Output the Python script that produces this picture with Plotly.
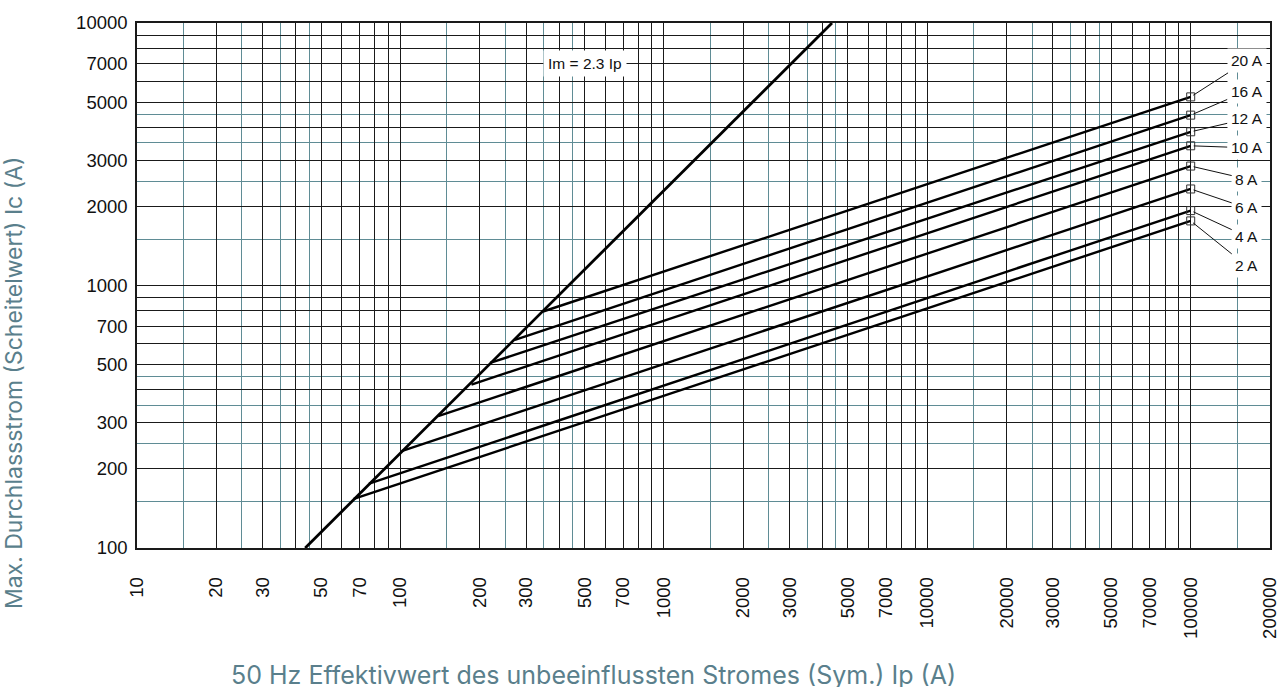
import numpy as np
import plotly.graph_objects as go

# ---------------- data ----------------
ratings = ["2 A", "4 A", "6 A", "8 A", "10 A", "12 A", "16 A", "20 A"]
ip_start = [66.5, 76, 101, 139, 186, 219, 272, 348]
ic_start = [154, 176, 234, 318, 419, 507, 621, 796]
ip_end = [100000, 100000, 100000, 100000, 100000, 100000, 100000, 100000]
ic_end = [1762, 1929, 2332, 2851, 3406, 3851, 4457, 5231]

limit_ip = [43.5, 4348]
limit_ic = [100, 10000]
limit_label = "Im = 2.3 Ip"
limit_label_pos = (500, 7000)

x_tick_labels = [10, 20, 30, 50, 70, 100, 200, 300, 500, 700, 1000, 2000, 3000,
                 5000, 7000, 10000, 20000, 30000, 50000, 70000, 100000, 200000]
y_tick_labels = [100, 200, 300, 500, 700, 1000, 2000, 3000, 5000, 7000, 10000]

x_title = "50 Hz Effektivwert des unbeeinflussten Stromes (Sym.) Ip (A)"
y_title = "Max. Durchlassstrom (Scheitelwert) Ic (A)"

# ---------------- styles ----------------
label_ax = [56, 56, 56, 56, 56, 56, 56, 56]
label_ay = [45, 26, 19, 13, 2, -13, -24, -36]
GRID_DARK = "#1a1a1a"
GRID_TEAL = "#5f8c95"
TITLE_COLOR = "#5a7f8c"
TICK_FONT = dict(family="Liberation Sans, Arial, sans-serif", size=18.5, color="#111111")
LABEL_FONT = dict(family="Liberation Sans, Arial, sans-serif", size=15.5, color="#111111")


def grid_values(lo, hi, mults):
    vals = []
    for e in range(0, 7):
        for m in mults:
            v = m * 10 ** e
            if lo - 1e-9 <= v <= hi + 1e-9:
                vals.append(v)
    return sorted(set(vals))


x_major = grid_values(10, 200000, range(1, 10))
y_major = grid_values(100, 10000, range(1, 10))
x_minor = grid_values(10, 200000, [1.5, 2.5, 3.5, 4.5])
y_minor = grid_values(100, 10000, [1.5, 2.5, 3.5, 4.5])

x_text = [str(int(v)) if int(v) in x_tick_labels else "" for v in x_major]
y_text = [str(int(v)) if int(v) in y_tick_labels else "" for v in y_major]

fig = go.Figure()

fig.add_trace(go.Scatter(x=limit_ip, y=limit_ic, mode="lines",
                         line=dict(color="black", width=2.8), showlegend=False,
                         hoverinfo="skip"))

for name, x0, y0, x1, y1 in zip(ratings, ip_start, ic_start, ip_end, ic_end):
    fig.add_trace(go.Scatter(x=[x0, x1], y=[y0, y1], mode="lines",
                             line=dict(color="black", width=2.4),
                             name=name, showlegend=False))
fig.add_trace(go.Scatter(x=ip_end, y=ic_end, mode="markers",
                         marker=dict(symbol="square-open", size=8, color="#333333",
                                     line=dict(width=1)),
                         showlegend=False, hoverinfo="skip"))

annotations = []
annotations.append(dict(x=np.log10(limit_label_pos[0]), y=np.log10(limit_label_pos[1]),
                        xref="x", yref="y", text=limit_label, showarrow=False,
                        bgcolor="white", borderpad=4, font=LABEL_FONT))
for name, x1, y1, ax, ay in zip(ratings, ip_end, ic_end, label_ax, label_ay):
    annotations.append(dict(x=np.log10(x1), y=np.log10(y1), xref="x", yref="y",
                            text=name, showarrow=True, arrowhead=0, arrowwidth=1,
                            arrowcolor="#111", ax=ax, ay=ay, standoff=3,
                            bgcolor="white", borderpad=3, font=LABEL_FONT))
annotations.append(dict(x=0.4025, y=-0.2415, xref="paper", yref="paper",
                        text=x_title, showarrow=False, xanchor="center", yanchor="middle",
                        font=dict(family="Inter, sans-serif", size=25, color=TITLE_COLOR)))
annotations.append(dict(x=-0.1086, y=0.314, xref="paper", yref="paper",
                        text=y_title, showarrow=False, textangle=-90,
                        xanchor="center", yanchor="middle",
                        font=dict(family="Inter, sans-serif", size=23, color=TITLE_COLOR)))

fig.update_layout(
    width=1277, height=687,
    margin=dict(l=137, r=7, t=23, b=139),
    paper_bgcolor="white", plot_bgcolor="white",
    annotations=annotations,
    xaxis=dict(type="log", range=[1, np.log10(200000)], automargin=False,
               tickmode="array", tickvals=x_major, ticktext=x_text,
               tickangle=-90, tickfont=TICK_FONT, ticks="", ticklabelstandoff=20,
               ticklabeloverflow="allow",
               showgrid=True, gridcolor=GRID_DARK, gridwidth=1.3,
               minor=dict(tickmode="array", tickvals=x_minor, showgrid=True,
                          gridcolor=GRID_TEAL, gridwidth=1.3, ticks=""),
               showline=True, linecolor=GRID_DARK, linewidth=1.5, mirror=True,
               zeroline=False),
    yaxis=dict(type="log", range=[2, 4], automargin=False,
               tickmode="array", tickvals=y_major, ticktext=y_text,
               tickfont=TICK_FONT, ticks="", ticklabelstandoff=4,
               ticklabeloverflow="allow",
               showgrid=True, gridcolor=GRID_DARK, gridwidth=1.3,
               minor=dict(tickmode="array", tickvals=y_minor, showgrid=True,
                          gridcolor=GRID_TEAL, gridwidth=1.3, ticks=""),
               showline=True, linecolor=GRID_DARK, linewidth=1.5, mirror=True,
               zeroline=False),
)

fig.write_html("out.html", config={"displayModeBar": False},
               post_script="document.body.style.margin='0px';document.body.style.overflow='hidden';")
